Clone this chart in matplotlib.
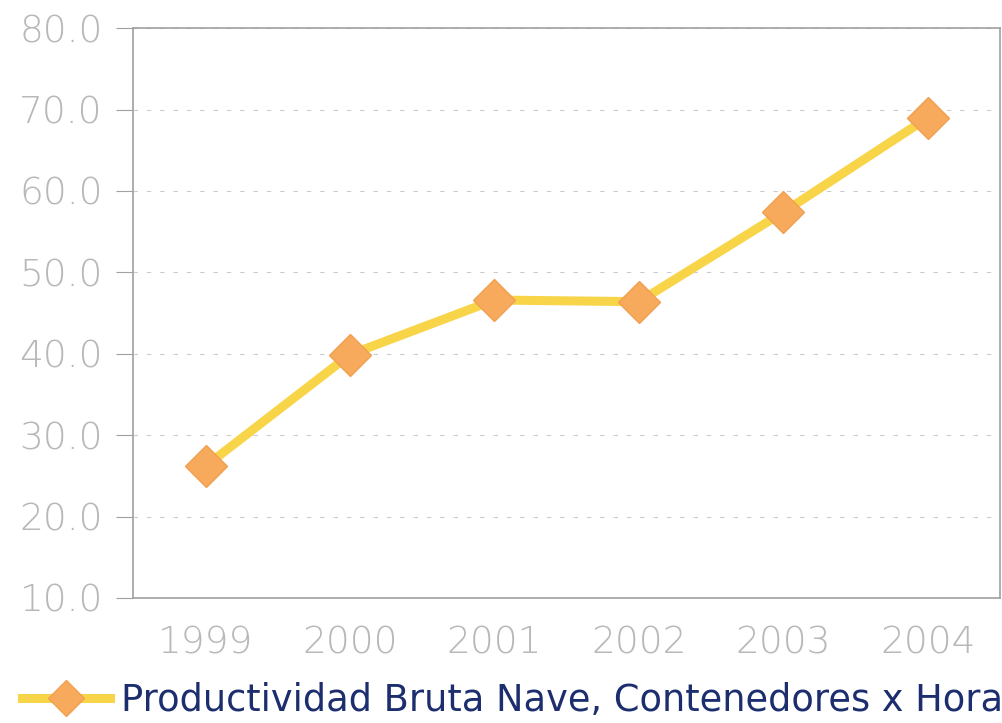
import matplotlib
matplotlib.use("Agg")
import matplotlib.pyplot as plt
from matplotlib.lines import Line2D

years = ["1999", "2000", "2001", "2002", "2003", "2004"]
productividad = [26.2, 39.9, 46.6, 46.4, 57.4, 69.0]
yticks = [10.0, 20.0, 30.0, 40.0, 50.0, 60.0, 70.0, 80.0]
label = "Productividad Bruta Nave, Contenedores x Hora"

fig = plt.figure(figsize=(10.03, 7.23), dpi=100)
ax = fig.add_axes([0.133, 0.173, 0.864, 0.788])

x = list(range(len(years)))
ax.plot(x, productividad, color="#F8D548", lw=6.5, marker="D", markersize=21,
        markerfacecolor="#F7AA5C", markeredgecolor="#F0A050", markeredgewidth=1, zorder=3)

ax.set_xlim(-0.5, len(years) - 0.5)
ax.set_ylim(10, 80)
ax.set_yticks(yticks)
ax.set_yticklabels([f"{v:.1f}" for v in yticks])
ax.set_xticks(x)
ax.set_xticklabels(years)

ax.yaxis.grid(True, color="#cccccc", linestyle=(0, (4, 8)), lw=0.8)
ax.set_axisbelow(True)
for s in ax.spines.values():
    s.set_color("#a0a0a0")
    s.set_linewidth(1.2)
ax.tick_params(axis="y", length=12, color="#a0a0a0", labelsize=27, labelcolor="#b8b8b8", pad=10)
ax.tick_params(axis="x", length=0, labelsize=27, labelcolor="#b8b8b8", pad=20)
for t in ax.get_xticklabels() + ax.get_yticklabels():
    t.set_fontweight("light")

handle = Line2D([], [], color="#F8D548", lw=6.5, marker="D", markersize=18,
                markerfacecolor="#F7AA5C", markeredgecolor="#F0A050")
fig.legend([handle], [label], loc="lower left", bbox_to_anchor=(0.0, -0.025),
           frameon=False, fontsize=26.5, labelcolor="#1c2e6e", handlelength=2.4,
           handletextpad=0.3, borderaxespad=0.2)

fig.savefig("out.png", dpi=100)
